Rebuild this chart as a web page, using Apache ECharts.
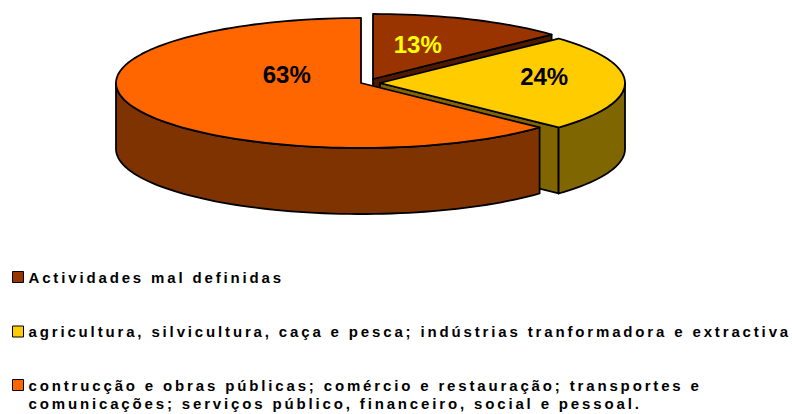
<!DOCTYPE html>
<html>
<head>
    <meta charset="UTF-8">
    <title>pie 3d</title>
    <script src="https://cdn.jsdelivr.net/npm/echarts@6/dist/echarts.min.js"></script>
    <style type="text/css">
        body {
            margin: 0;
            padding: 0;
            background-color: #ffffff;
        }
        #app {
            width: 792px;
            height: 414px;
        }
        /* legend text is spaced out in the original */
        #app text[style*="15px"] {
            letter-spacing: 2.85px;
        }
    </style>
</head>
<body>
<div id="app"></div>
<script type="text/javascript">
    var categories = [
        'Actividades mal definidas',
        'agricultura, silvicultura, caça e pesca; indústrias tranformadora e extractiva',
        'contrucção e obras públicas; comércio e restauração; transportes e comunicações; serviços público, financeiro, social e pessoal.'
    ];
    var values = [13, 24, 63];

    var topColors = ['#993300', '#FFCC00', '#FF6600'];
    var sideColors = ['#4d1a00', '#806600', '#7f3300'];
    var labelColors = ['#FFFF00', '#000000', '#000000'];
    var explode = [[12, -4], [19, 0], [0, 0]];     // px shift of each slice
    var labelPos = [[0.46, 7], [0.67, 7], [0.33, 17]]; // radius fraction, lift

    var cx = 361, cy = 83, rx = 245, ry = 65, depth = 66;

    var total = values.reduce(function (a, b) { return a + b; }, 0);
    var starts = [], ends = [];
    var acc = 0;
    values.forEach(function (v) {
        starts.push(acc / total * 360);
        acc += v;
        ends.push(acc / total * 360);
    });

    function rad(a) { return a * Math.PI / 180; }

    // angle measured clockwise from 12 o'clock
    function pt(a, ox, oy, dz) {
        return [cx + ox + rx * Math.sin(rad(a)), cy + oy - ry * Math.cos(rad(a)) + (dz || 0)];
    }

    function arc(a0, a1, ox, oy, dz) {
        var pts = [];
        var n = Math.max(2, Math.ceil(Math.abs(a1 - a0) / 2));
        for (var i = 0; i <= n; i++) {
            pts.push(pt(a0 + (a1 - a0) * i / n, ox, oy, dz));
        }
        return pts;
    }

    function renderSlice(i) {
        return function (params, api) {
            var a0 = starts[i], a1 = ends[i];
            var ox = explode[i][0], oy = explode[i][1];
            var c = [cx + ox, cy + oy];
            var edge = {stroke: '#000', lineWidth: 1.8, lineJoin: 'round'};
            var children = [];

            // cut faces that look towards the viewer
            [[a0, a0 - 90], [a1, a1 + 90]].forEach(function (f) {
                if (Math.cos(rad(f[1])) < -0.01) {
                    var p = pt(f[0], ox, oy, 0);
                    children.push({
                        type: 'polygon', z2: 1,
                        shape: {points: [c, p, [p[0], p[1] + depth], [c[0], c[1] + depth]]},
                        style: Object.assign({fill: sideColors[i]}, edge)
                    });
                }
            });

            // front part of the outer wall
            var w0 = Math.max(a0, 90), w1 = Math.min(a1, 270);
            if (w1 > w0) {
                children.push({
                    type: 'polygon', z2: 2,
                    shape: {points: arc(w0, w1, ox, oy, 0).concat(arc(w1, w0, ox, oy, depth))},
                    style: Object.assign({fill: sideColors[i]}, edge)
                });
            }

            // top face
            children.push({
                type: 'polygon', z2: 3,
                shape: {points: [c].concat(arc(a0, a1, ox, oy, 0))},
                style: Object.assign({fill: topColors[i]}, edge)
            });

            // percent label
            var mid = (a0 + a1) / 2, f = labelPos[i][0];
            children.push({
                type: 'text', z2: 4,
                style: {
                    text: Math.round(values[i] / total * 100) + '%',
                    x: c[0] + rx * f * Math.sin(rad(mid)),
                    y: c[1] - ry * f * Math.cos(rad(mid)) - labelPos[i][1],
                    align: 'center',
                    verticalAlign: 'middle',
                    fill: labelColors[i],
                    font: 'bold 24px "Liberation Sans", Arial, sans-serif'
                }
            });
            return {type: 'group', children: children};
        };
    }

    var chart = echarts.init(document.getElementById('app'), null, {renderer: 'svg'});

    var series = categories.map(function (name, i) {
        return {
            type: 'custom',
            name: name,
            coordinateSystem: 'none',
            silent: true,
            animation: false,
            itemStyle: {color: topColors[i]},
            data: [[values[i]]],
            renderItem: renderSlice(i)
        };
    });

    var legendBase = {
        orient: 'vertical',
        left: 12,
        padding: 0,
        height: 120,
        itemWidth: 11,
        itemHeight: 11,
        itemGap: 36.5,
        icon: 'rect',
        selectedMode: false,
        itemStyle: {borderColor: '#000', borderWidth: 1},
        textStyle: {
            fontFamily: '"Liberation Sans", Arial, sans-serif',
            fontWeight: 'bold',
            fontSize: 15,
            color: '#000',
            lineHeight: 18
        },
        // last entry: empty first line so the icon sits on the first text line
        formatter: function (name) {
            return name === categories[2] ? '\n' + name.replace('transportes e ', 'transportes e\n') : name;
        }
    };

    chart.setOption({
        backgroundColor: '#ffffff',
        animation: false,
        legend: [
            Object.assign({}, legendBase, {top: 268, data: [categories[0], categories[1]]}),
            Object.assign({}, legendBase, {top: 358, data: [categories[2]]})
        ],
        series: series
    });
</script>
</body>
</html>
